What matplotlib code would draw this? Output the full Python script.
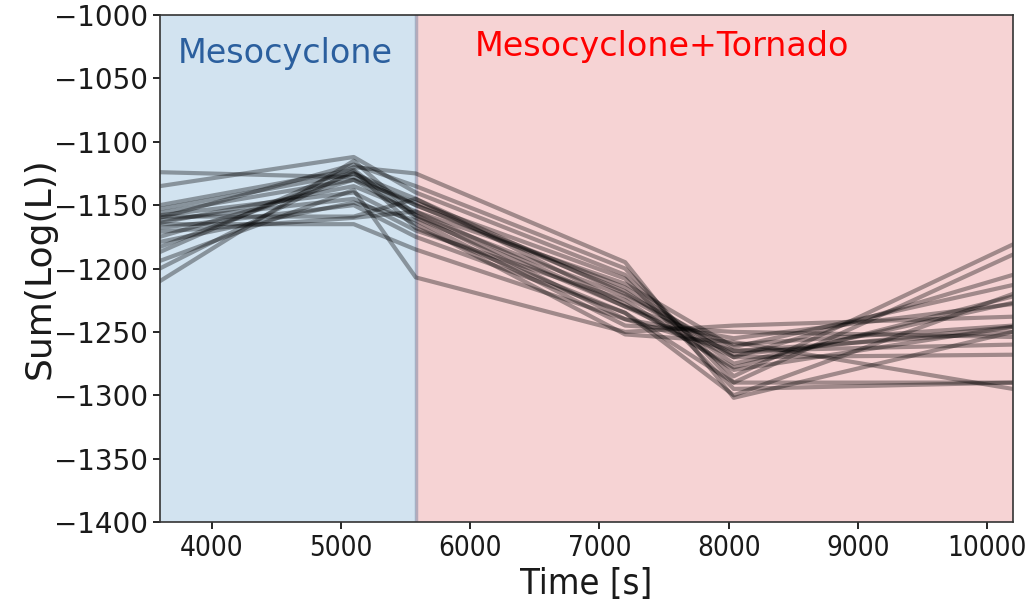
import matplotlib
matplotlib.use("Agg")
import matplotlib.pyplot as plt
import numpy as np

# Sample times (s) at which each ensemble member's summed log-likelihood is evaluated
times = [3600, 5100, 5580, 7200, 8040, 10200]

# Sum(Log(L)) for each ensemble member at the sample times
members = [
    [-1124, -1128, -1150, -1215, -1270, -1205],
    [-1135, -1112, -1140, -1205, -1285, -1181],
    [-1150, -1122, -1160, -1230, -1260, -1245],
    [-1153, -1125, -1145, -1220, -1265, -1250],
    [-1156, -1130, -1158, -1240, -1255, -1228],
    [-1158, -1140, -1165, -1252, -1258, -1295],
    [-1160, -1118, -1135, -1200, -1290, -1189],
    [-1162, -1145, -1170, -1225, -1280, -1246],
    [-1164, -1135, -1155, -1212, -1262, -1213],
    [-1168, -1150, -1175, -1235, -1300, -1220],
    [-1171, -1160, -1155, -1230, -1270, -1268],
    [-1175, -1130, -1148, -1208, -1295, -1290],
    [-1179, -1148, -1162, -1245, -1250, -1254],
    [-1183, -1125, -1150, -1218, -1275, -1227],
    [-1187, -1120, -1125, -1195, -1302, -1250],
    [-1194, -1138, -1207, -1250, -1245, -1238],
    [-1200, -1123, -1168, -1235, -1290, -1290],
    [-1210, -1115, -1158, -1222, -1268, -1246],
    [-1165, -1165, -1185, -1240, -1265, -1260],
    [-1159, -1159, -1145, -1228, -1278, -1222],
]

# Phase boundaries (s)
t_start, t_tornado, t_end = 3600, 5580, 10200
phase_labels = ["Mesocyclone", "Mesocyclone+Tornado"]

fig = plt.figure(figsize=(10.31, 6.01), dpi=100)
ax = fig.add_axes([0.155, 0.1314, 0.8275, 0.8436])

ax.axvspan(t_start, t_tornado, color="tab:blue", alpha=0.2, lw=0)
ax.axvspan(t_tornado, t_end, color="tab:red", alpha=0.2, lw=0)
ax.axvline(t_tornado, color="#8a8fa8", lw=2.5, alpha=0.6)

for m in members:
    ax.plot(times, m, color="black", alpha=0.35, lw=3)

ax.text(3740, -1030, phase_labels[0], color="#2b5f9e", fontsize=24, va="center")
ax.text(6040, -1025, phase_labels[1], color="red", fontsize=24, va="center")

ax.set_xlim(t_start, t_end)
ax.set_ylim(-1400, -1000)
ax.set_yticks(np.arange(-1400, -999, 50))
ax.set_xticks(np.arange(4000, 10001, 1000))

ax.tick_params(axis="both", labelsize=20, length=5, width=1.2,
               labelcolor="#1a1a1a")
for lab in ax.get_xticklabels():
    lab.set_fontstretch("condensed")
ax.set_xlabel("Time [s]", fontsize=26, fontstretch="condensed", labelpad=4,
              color="#1a1a1a")
ax.set_ylabel("Sum(Log(L))", fontsize=26, labelpad=-2, color="#1a1a1a")

for s in ax.spines.values():
    s.set_color("#333333")
    s.set_linewidth(1.2)

fig.savefig("out.png", dpi=100)
